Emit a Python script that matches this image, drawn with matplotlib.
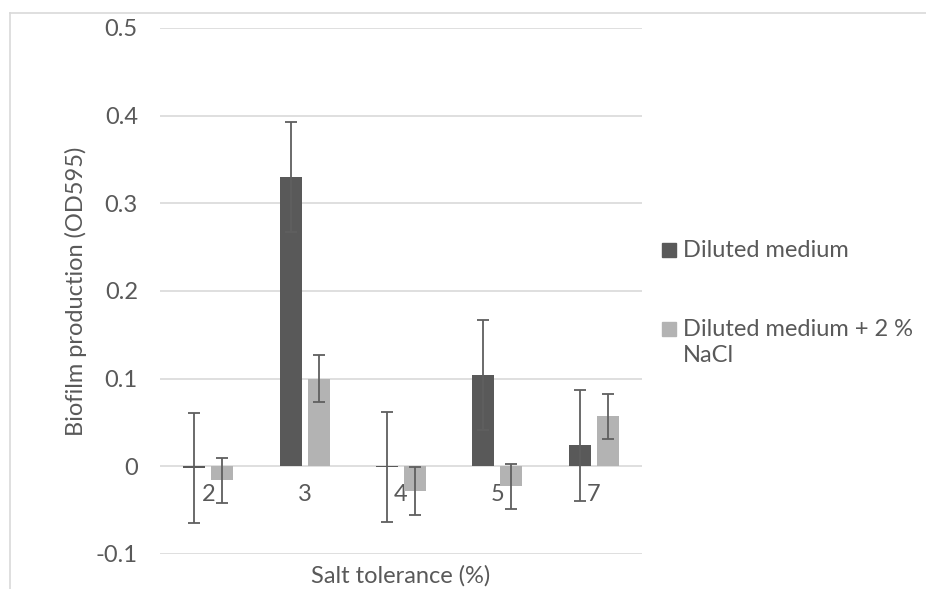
import matplotlib
matplotlib.use("Agg")
import matplotlib.pyplot as plt
import numpy as np
from matplotlib.patches import Rectangle
from matplotlib.lines import Line2D

categories = ["2", "3", "4", "5", "7"]
diluted = [-0.002, 0.330, -0.001, 0.104, 0.024]
diluted_err = [0.063, 0.063, 0.063, 0.063, 0.063]
nacl = [-0.016, 0.100, -0.028, -0.023, 0.057]
nacl_err = [0.026, 0.027, 0.027, 0.026, 0.026]
series_names = ["Diluted medium", "Diluted medium + 2 %\nNaCl"]
yticks = [-0.1, 0, 0.1, 0.2, 0.3, 0.4, 0.5]
ytick_labels = ["-0.1", "0", "0.1", "0.2", "0.3", "0.4", "0.5"]

dark = "#595959"
light = "#b3b3b3"
grid = "#d9d9d9"
txt = "#595959"
plt.rcParams["font.family"] = ["Lato", "DejaVu Sans"]
FS = 17

W, H = 926, 589
fig = plt.figure(figsize=(W / 100, H / 100), dpi=100)
ax = fig.add_axes([160 / W, 1 - 554 / H, (642 - 160) / W, (554 - 28) / H])

x = np.arange(len(categories))
bw = 0.228
off = 0.145
ax.bar(x - off, diluted, bw, color=dark, zorder=2)
ax.bar(x + off, nacl, bw, color=light, zorder=2)
ax.errorbar(x - off, diluted, yerr=diluted_err, fmt="none", ecolor="#5f5f5f",
            elinewidth=1.3, capsize=4.5, capthick=1.3, zorder=3)
ax.errorbar(x + off, nacl, yerr=nacl_err, fmt="none", ecolor="#5f5f5f",
            elinewidth=1.3, capsize=4.5, capthick=1.3, zorder=3)

ax.set_xlim(-0.5, len(categories) - 0.5)
ax.set_ylim(-0.1, 0.5)
ax.set_yticks(yticks)
ax.set_yticklabels(ytick_labels)
ax.yaxis.grid(True, color=grid, linewidth=1.2, zorder=0)
ax.set_axisbelow(True)
for s in ["left", "right", "top"]:
    ax.spines[s].set_visible(False)
ax.spines["bottom"].set_position(("data", 0))
ax.spines["bottom"].set_visible(False)
ax.set_xticks(x)
ax.set_xticklabels(categories)
ax.tick_params(axis="x", length=0, pad=13, labelsize=FS, labelcolor=txt)
ax.tick_params(axis="y", length=0, pad=16, labelsize=FS, labelcolor=txt)

fig.text(76 / W, 1 - 291 / H, "Biofilm production (OD595)", rotation=90,
         ha="center", va="center", fontsize=FS, color=txt)
fig.text(401 / W, 1 - 576 / H, "Salt tolerance (%)", ha="center", va="center",
         fontsize=FS, color=txt)

# chart frame
fig.add_artist(Line2D([10 / W, 10 / W], [0, 1 - 13 / H], color=grid, lw=1.2,
                      transform=fig.transFigure))
fig.add_artist(Line2D([10 / W, 1], [1 - 13 / H, 1 - 13 / H], color=grid, lw=1.2,
                      transform=fig.transFigure))

# legend
for name, col, yc in [(series_names[0], dark, 250), (series_names[1], light, 329)]:
    fig.add_artist(Rectangle((662 / W, 1 - (yc + 7) / H), 14 / W, 14 / H,
                             color=col, transform=fig.transFigure))
    fig.text(683 / W, 1 - (yc - 10) / H, name, ha="left", va="top",
             fontsize=FS, color=txt, linespacing=1.3)

fig.savefig("out.png", dpi=100)
